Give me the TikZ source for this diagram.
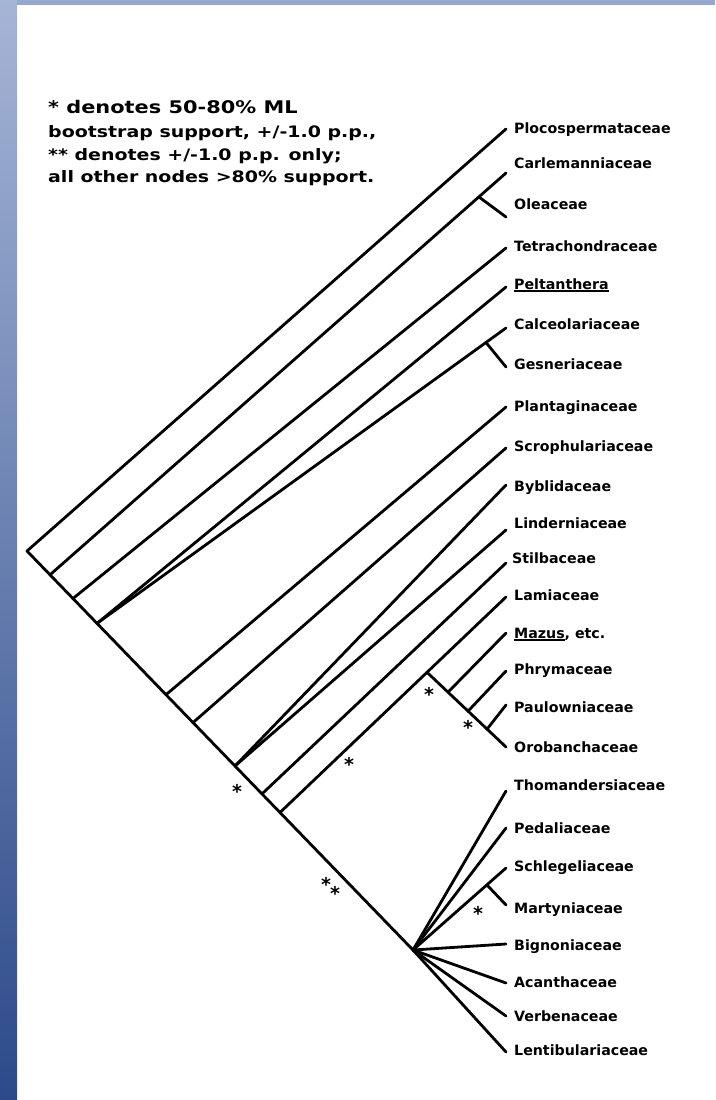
\documentclass[tikz,border=0pt]{standalone}
\usepackage{fontspec}
\setmainfont{DejaVu Sans}
\newfontfamily\labfam{DejaVu Sans Bold}
\newfontfamily\legfam[FakeStretch=1.2]{DejaVu Sans Bold}
\newfontfamily\starfam{DejaVu Sans Bold}
\definecolor{framelight}{RGB}{165,181,214}
\definecolor{framedark}{RGB}{44,74,138}
\definecolor{frametop}{RGB}{150,168,206}
\newcommand\myul[1]{\setbox0\hbox{#1}\rlap{\rule[-3.2pt]{\wd0}{1.8pt}}\box0}
\tikzset{
  br/.style={line width=2.8pt, line cap=round, line join=round, black},
  lab/.style={anchor=base west, inner sep=0pt, font=\labfam\fontsize{14.2}{16}\selectfont},
  legA/.style={anchor=base west, inner sep=0pt, font=\legfam\fontsize{17.4}{20}\selectfont},
  legB/.style={anchor=base west, inner sep=0pt, font=\legfam\fontsize{15.8}{18}\selectfont},
  starm/.style={anchor=base, inner sep=0pt, font=\starfam\fontsize{19}{21}\selectfont}
}
\begin{document}
\begin{tikzpicture}[x=1pt,y=-1pt]
\useasboundingbox (0,0) rectangle (715,1100);
\fill[white] (0,0) rectangle (715,1100);
% frame
\shade[top color=framelight, bottom color=framedark] (0,0) rectangle (17,1100);
\fill[frametop] (17,0) rectangle (715,5);

% legend
\node[legA] (leg1) at (48,113) {* denotes 50-80\% ML};
\node[legB] (leg2) at (48,137) {bootstrap support, +/-1.0 p.p.,};
\node[legB] (leg3) at (48,160) {** denotes +/-1.0 p.p. only;};
\node[legB] (leg4) at (48,182) {all other nodes >80\% support.};

% backbone
\coordinate (root) at (27,551);
\coordinate (b1) at (50,574.8);
\coordinate (b2) at (73,598.5);
\coordinate (b3) at (97,623.4);
\coordinate (b4) at (166,694.7);
\coordinate (b5) at (193,722.6);
\coordinate (b6) at (235,766.0);
\coordinate (b7) at (262,793.9);
\coordinate (b8) at (280,812.5);
\coordinate (pol) at (413,950);

% tips
\coordinate (t1) at (506,129);
\coordinate (t2) at (506,173);
\coordinate (t3) at (506,217);
\coordinate (t4) at (506,248);
\coordinate (t5) at (506,287);
\coordinate (t6) at (506,328);
\coordinate (t7) at (506,367);
\coordinate (t8) at (506,407);
\coordinate (t9) at (506,448);
\coordinate (t10) at (506,485);
\coordinate (t11) at (506,530);
\coordinate (t12) at (506,563);
\coordinate (t13) at (506,597);
\coordinate (t14) at (506,633);
\coordinate (t15) at (506,671);
\coordinate (t16) at (506,705);
\coordinate (t17) at (506,747);
\coordinate (t18) at (506,791);
\coordinate (t19) at (506,828);
\coordinate (t20) at (506,868);
\coordinate (t21) at (506,905);
\coordinate (t22) at (506,944);
\coordinate (t23) at (506,983);
\coordinate (t24) at (506,1016);
\coordinate (t25) at (506,1052);

% inner splits
\coordinate (sC) at (479,197);
\coordinate (sG) at (486,342.5);
\coordinate (s1) at (427,672.3);
\coordinate (m1) at (448,692.2);
\coordinate (m2) at (468,711.2);
\coordinate (m3) at (487,729.2);
\coordinate (sM) at (487,885);

% branches
\draw[br] (t1) -- (root) -- (pol) -- (t25);
\draw[br] (b1) -- (t2);
\draw[br] (sC) -- (t3);
\draw[br] (b2) -- (t4);
\draw[br] (b3) -- (t5);
\draw[br] (b3) -- (t6);
\draw[br] (sG) -- (t7);
\draw[br] (b4) -- (t8);
\draw[br] (b5) -- (t9);
\draw[br] (b6) -- (t10);
\draw[br] (b6) -- (t11);
\draw[br] (b7) -- (t12);
\draw[br] (b8) -- (t13);
\draw[br] (s1) -- (t17);
\draw[br] (m1) -- (t14);
\draw[br] (m2) -- (t15);
\draw[br] (m3) -- (t16);
\draw[br] (pol) -- (t18);
\draw[br] (pol) -- (t19);
\draw[br] (pol) -- (t20);
\draw[br] (sM) -- (t21);
\draw[br] (pol) -- (t22);
\draw[br] (pol) -- (t23);
\draw[br] (pol) -- (t24);

% labels
\node[lab] (n1) at (514,133) {Plocospermataceae};
\node[lab] (n2) at (514,168) {Carlemanniaceae};
\node[lab] (n3) at (514,209) {Oleaceae};
\node[lab] (n4) at (514,251) {Tetrachondraceae};
\node[lab] (n5) at (514,289) {\myul{Peltanthera}};
\node[lab] (n6) at (514,329) {Calceolariaceae};
\node[lab] (n7) at (514,369) {Gesneriaceae};
\node[lab] (n8) at (514,411) {Plantaginaceae};
\node[lab] (n9) at (514,451) {Scrophulariaceae};
\node[lab] (n10) at (514,491) {Byblidaceae};
\node[lab] (n11) at (514,528) {Linderniaceae};
\node[lab] (n12) at (512,563) {Stilbaceae};
\node[lab] (n13) at (514,600) {Lamiaceae};
\node[lab] (n14) at (514,638) {\myul{Mazus}, etc.};
\node[lab] (n15) at (514,674) {Phrymaceae};
\node[lab] (n16) at (514,712) {Paulowniaceae};
\node[lab] (n17) at (514,752) {Orobanchaceae};
\node[lab] (n18) at (514,790) {Thomandersiaceae};
\node[lab] (n19) at (514,833) {Pedaliaceae};
\node[lab] (n20) at (514,871) {Schlegeliaceae};
\node[lab] (n21) at (514,913) {Martyniaceae};
\node[lab] (n22) at (514,950) {Bignoniaceae};
\node[lab] (n23) at (514,987) {Acanthaceae};
\node[lab] (n24) at (514,1021) {Verbenaceae};
\node[lab] (n25) at (514,1055) {Lentibulariaceae};

% support asterisks
\node[starm] (st1) at (237,798) {*};
\node[starm] (st2) at (349,771) {*};
\node[starm] (st3) at (429,701) {*};
\node[starm] (st4) at (468,734) {*};
\node[starm] (st5) at (478,920) {*};
\node[starm] (st6) at (326,891) {*};
\node[starm] (st7) at (335,900) {*};
\end{tikzpicture}
\end{document}
